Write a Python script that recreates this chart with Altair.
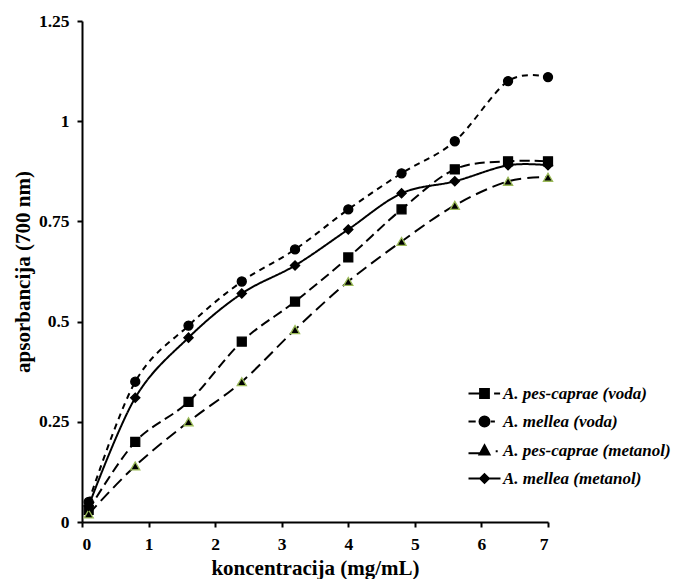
import altair as alt
import pandas as pd

conc = [0.1, 0.8, 1.6, 2.4, 3.2, 4.0, 4.8, 5.6, 6.4, 7.0]
pes_voda = [0.03, 0.20, 0.30, 0.45, 0.55, 0.66, 0.78, 0.88, 0.90, 0.90]
mel_voda = [0.05, 0.35, 0.49, 0.60, 0.68, 0.78, 0.87, 0.95, 1.10, 1.11]
pes_met = [0.02, 0.14, 0.25, 0.35, 0.48, 0.60, 0.70, 0.79, 0.85, 0.86]
mel_met = [0.04, 0.31, 0.46, 0.57, 0.64, 0.73, 0.82, 0.85, 0.89, 0.89]
series_names = ["A. pes-caprae (voda)", "A. mellea (voda)",
                "A. pes-caprae (metanol)", "A. mellea (metanol)"]
x_ticks = [0, 1, 2, 3, 4, 5, 6, 7]
y_ticks = [0, 0.25, 0.5, 0.75, 1, 1.25]

rows = []
for name, vals in zip(series_names, [pes_voda, mel_voda, pes_met, mel_met]):
    for c, v in zip(conc, vals):
        rows.append({"series": name, "conc": c, "abs": v})
df = pd.DataFrame(rows)

FONT = "'Liberation Serif', 'Times New Roman', Times, 'DejaVu Serif', serif"
dom = series_names

x_enc = alt.X("conc:Q", scale=alt.Scale(domain=[0, 7], nice=False),
              axis=alt.Axis(values=x_ticks, title="koncentracija (mg/mL)",
                            labelExpr="'' + datum.value"))
y_enc = alt.Y("abs:Q", scale=alt.Scale(domain=[0, 1.25], nice=False),
              axis=alt.Axis(values=y_ticks, title="apsorbancija (700 nm)",
                            labelExpr="'' + datum.value"))

lines = alt.Chart(df).mark_line(interpolate="cardinal", strokeWidth=2, color="black").encode(
    x=x_enc, y=y_enc,
    strokeDash=alt.StrokeDash("series:N", scale=alt.Scale(domain=dom,
                              range=[[10, 5], [6, 5], [12, 6], [1, 0]]), legend=None),
    detail="series:N",
)

points = alt.Chart(df).mark_point(filled=True, fill="black", opacity=1, strokeWidth=1.3).encode(
    x=x_enc, y=y_enc,
    shape=alt.Shape("series:N", scale=alt.Scale(domain=dom,
                    range=["square", "circle", "triangle-up", "diamond"]), legend=None),
    stroke=alt.Stroke("series:N", scale=alt.Scale(domain=dom,
                      range=["black", "black", "#9bbb59", "black"]), legend=None),
    size=alt.Size("series:N", scale=alt.Scale(domain=dom, range=[80, 85, 90, 50]), legend=None),
)

legend_paths = [
    "M-4,0H-1.2M2.4,0H3.9M-1.1,-1.1H1.1V1.1H-1.1Z",
    "M-4,0H-2.2M1.6,0H2.6M-1.25,0A1.25,1.25 0 1,0 1.25,0A1.25,1.25 0 1,0 -1.25,0Z",
    "M-4,0.7H-1M2.8,0.2H3.3M0,-1.3L1.25,1H-1.25Z",
    "M-4,0H4M0,-1.1L1.1,0L0,1.1L-1.1,0Z",
]

leg = alt.Legend(title=None, orient="none", legendX=394, legendY=364,
                 labelFont=FONT, labelFontSize=17, labelFontWeight="bold",
                 labelFontStyle="italic", labelColor="black",
                 labelOffset=10, rowPadding=10, padding=0,
                 symbolSize=64, symbolStrokeWidth=2,
                 symbolFillColor="black", symbolStrokeColor="black",
                 symbolOpacity=1, labelLimit=300)

legend_layer = alt.Chart(df).transform_filter("datum.conc < -100").mark_point(
    opacity=1, size=64, strokeWidth=2).encode(
    x=x_enc, y=y_enc,
    shape=alt.Shape("series:N", scale=alt.Scale(domain=dom, range=legend_paths), legend=leg),
    stroke=alt.Stroke("series:N", scale=alt.Scale(domain=dom,
                      range=["black", "black", "black", "black"]), legend=leg),
    fill=alt.Fill("series:N", scale=alt.Scale(domain=dom,
                  range=["black", "black", "black", "black"]), legend=leg),
)

chart = alt.layer(lines, points, legend_layer).resolve_scale(
    shape="independent", stroke="independent", fill="independent"
).properties(
    width=466, height=501,
    padding={"left": 74, "top": 13, "right": 131, "bottom": 57},
    autosize=alt.AutoSizeParams(type="none"),
).configure_view(stroke=None).configure_axis(
    grid=False,
    domainColor="black", domainWidth=2,
    tickColor="black", tickWidth=2, tickSize=5,
    labelFont=FONT, labelFontSize=17.5, labelFontWeight="bold", labelColor="black",
    titleFont=FONT, titleFontSize=21, titleFontWeight="bold", titleColor="black",
).configure_axisX(
    labelPadding=8, titlePadding=5,
).configure_axisY(
    labelPadding=8, titlePadding=5,
)

chart.save("out.html", embed_options={"renderer": "svg", "actions": False})
